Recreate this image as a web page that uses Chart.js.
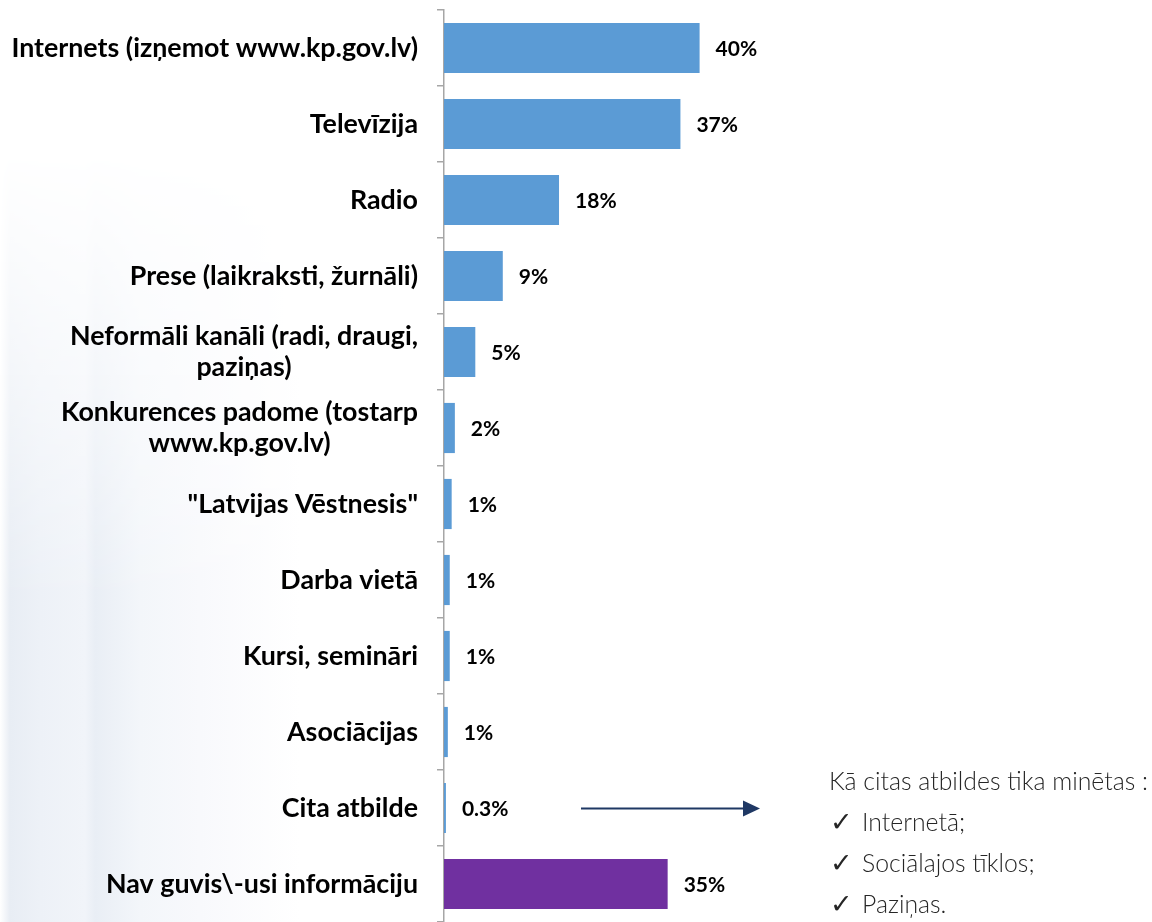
<!DOCTYPE html>
<html>
<head>
<meta charset="utf-8">
<script src="https://cdn.jsdelivr.net/npm/chart.js@4.4.1/dist/chart.umd.min.js"></script>
<style>
  html, body { margin: 0; padding: 0; background: #ffffff; }
  #wrap { position: relative; width: 1152px; height: 922px; overflow: hidden; }
  #bg {
    position: absolute; left: 0; top: 0; width: 340px; height: 922px;
    background: linear-gradient(to right, #ffffff 0px, #e8edf4 10px, #edf1f7 40px, #f1f4f9 85px, #e9eef5 95px, #f3f6fa 140px, #f8f9fc 200px, #ffffff 300px);
    -webkit-mask-image: linear-gradient(to bottom, rgba(0,0,0,0) 150px, rgba(0,0,0,1) 600px);
    mask-image: linear-gradient(to bottom, rgba(0,0,0,0) 150px, rgba(0,0,0,1) 600px);
  }
  #c { position: absolute; left: 0; top: 0; }
  #note {
    position: absolute; left: 829px; top: 761px;
    font-family: Lato, "Open Sans", sans-serif; font-weight: 300; font-size: 24.8px;
    color: #262626; line-height: 40px; white-space: nowrap;
  }
  #note .it { padding-left: 1px; }
  #note .ck { display: inline-block; width: 32px; font-size: 27px; font-weight: 400; }
</style>
</head>
<body>
<div id="wrap">
  <div id="bg"></div>
  <canvas id="c" width="1152" height="922"></canvas>
  <div id="note"></div>
</div>
<script>
const categories = [
  'Internets (izņemot www.kp.gov.lv)',
  'Televīzija',
  'Radio',
  'Prese (laikraksti, žurnāli)',
  ['Neformāli kanāli (radi, draugi,', 'paziņas)'],
  ['Konkurences padome (tostarp', 'www.kp.gov.lv)'],
  '"Latvijas Vēstnesis"',
  'Darba vietā',
  'Kursi, semināri',
  'Asociācijas',
  'Cita atbilde',
  'Nav guvis\\-usi informāciju'
];
const values = [40, 37, 18, 9.2, 4.9, 1.7, 1.2, 0.9, 0.9, 0.6, 0.3, 35];
const valueLabels = ['40%', '37%', '18%', '9%', '5%', '2%', '1%', '1%', '1%', '1%', '0.3%', '35%'];
const noteTitle = 'Kā citas atbildes tika minētas :';
const noteItems = ['Internetā;', 'Sociālajos tīklos;', 'Paziņas.'];

const BLUE = '#5b9bd5';
const PURPLE = '#7030a0';

// annotation
const note = document.getElementById('note');
let html = '<div>' + noteTitle + '</div>';
noteItems.forEach(t => { html += '<div class="it"><span class="ck">✓</span>' + t + '</div>'; });
note.innerHTML = html;

const labelPlugin = {
  id: 'labels',
  afterDraw(chart) {
    const ctx = chart.ctx;
    const ys = chart.scales.y, xs = chart.scales.x;
    ctx.save();
    // category labels
    ctx.font = 'bold 26.8px Lato, "Open Sans", sans-serif';
    ctx.fillStyle = '#000000';
    ctx.textBaseline = 'middle';
    ctx.textAlign = 'center';
    const rightX = 418, lh = 31;
    categories.forEach((c, i) => {
      const lines = Array.isArray(c) ? c : [c];
      const w = Math.max(...lines.map(l => ctx.measureText(l).width));
      const cx = rightX - w / 2;
      const yc = ys.getPixelForValue(i);
      lines.forEach((l, j) => {
        ctx.fillText(l, cx, yc + (j - (lines.length - 1) / 2) * lh);
      });
    });
    // value labels
    ctx.font = 'bold 21px Lato, "Open Sans", sans-serif';
    ctx.textAlign = 'left';
    values.forEach((v, i) => {
      const x = xs.getPixelForValue(v) + 16;
      ctx.fillText(valueLabels[i], x, ys.getPixelForValue(i) + 1);
    });
    // arrow from "Cita atbilde" row
    const ay = Math.round(ys.getPixelForValue(10)) + 0.5;
    ctx.strokeStyle = '#1f3864';
    ctx.fillStyle = '#1f3864';
    ctx.lineWidth = 2;
    ctx.beginPath();
    ctx.moveTo(581, ay);
    ctx.lineTo(746, ay);
    ctx.stroke();
    ctx.beginPath();
    ctx.moveTo(743, ay - 8);
    ctx.lineTo(760, ay);
    ctx.lineTo(743, ay + 8);
    ctx.closePath();
    ctx.fill();
    ctx.restore();
  }
};

new Chart(document.getElementById('c'), {
  type: 'bar',
  data: {
    labels: categories,
    datasets: [{
      data: values,
      backgroundColor: ctx => ctx.dataIndex === values.length - 1 ? PURPLE : BLUE,
      borderWidth: 0,
      barPercentage: 0.66,
      categoryPercentage: 1.0
    }]
  },
  options: {
    indexAxis: 'y',
    responsive: false,
    animation: false,
    devicePixelRatio: 1,
    layout: { padding: { top: 10, right: 69, bottom: 0, left: 0 } },
    plugins: { legend: { display: false }, tooltip: { enabled: false } },
    scales: {
      x: { display: false, min: 0, max: 100 },
      y: {
        offset: true,
        ticks: { display: false },
        grid: {
          display: true, offset: true, drawOnChartArea: false, drawTicks: true,
          tickLength: 7, color: '#a6a6a6', lineWidth: 1.5
        },
        border: { display: true, color: '#a6a6a6', width: 1.5 },
        afterFit: s => { s.width = 444; }
      }
    }
  },
  plugins: [labelPlugin]
});
</script>
</body>
</html>
